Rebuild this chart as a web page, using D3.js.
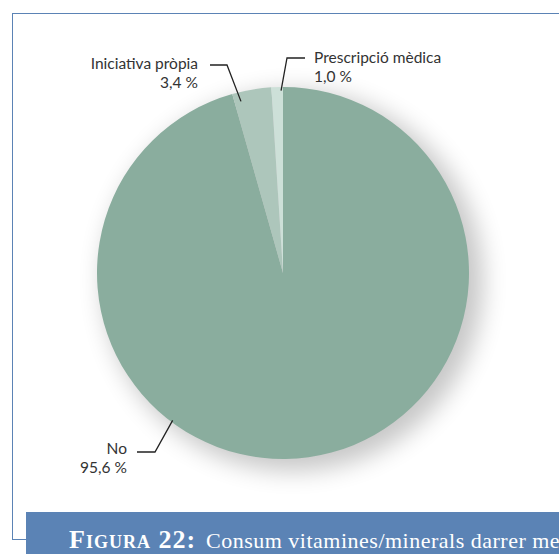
<!DOCTYPE html>
<html>
<head>
<meta charset="utf-8">
<script src="https://cdn.jsdelivr.net/npm/d3@7"></script>
<style>
  body { margin: 0; background: #fff; }
</style>
</head>
<body>
<div id="chart"></div>
<script>
// data
let categories = ["No", "Iniciativa pròpia", "Prescripció mèdica"];
let values = [95.6, 3.4, 1.0];
let valueLabels = ["95,6 %", "3,4 %", "1,0 %"];
let colors = ["#8aad9e", "#adc6bb", "#cde0d8"];

// label layout: text position, leader elbow, where on the slice the line ends
let labelPos = [
  {x: 127, y: 454, align: "end", lineY: 452, elbow: [137, 155], t: 0.63, rf: 0.99},
  {x: 198, y: 69, align: "end", lineY: 65, elbow: [210, 227], t: 0.17, rf: 0.95},
  {x: 314, y: 63, align: "start", lineY: 58, elbow: [305, 287], t: 0.83, rf: 0.98}
];

let width = 559, height = 554;
let cx = 283, cy = 273, radius = 186;
let textColor = "#333";
let blue = "#5b83b5";

let svg = d3.select("#chart")
  .append("svg")
  .attr("width", width)
  .attr("height", height);

let defs = svg.append("defs");
defs.append("filter")
  .attr("id", "shadow")
  .attr("x", "-30%").attr("y", "-30%")
  .attr("width", "160%").attr("height", "160%")
  .append("feGaussianBlur")
  .attr("stdDeviation", 12);

// frame
svg.append("rect")
  .attr("x", 12.5)
  .attr("y", 13.5)
  .attr("width", 600)
  .attr("height", 526)
  .style("fill", "none")
  .style("stroke", blue)
  .style("stroke-width", 1);

let pie = d3.pie().sort(null).value(d => d);
let arcs = pie(values);
let arc = d3.arc().innerRadius(0).outerRadius(radius);

let g = svg.append("g").attr("transform", `translate(${cx},${cy})`);

g.append("circle")
  .attr("cx", 10)
  .attr("cy", 8)
  .attr("r", radius + 4)
  .style("fill", "#000")
  .style("opacity", 0.22)
  .attr("filter", "url(#shadow)");

g.selectAll("path.slice")
  .data(arcs)
  .enter()
  .append("path")
  .attr("class", "slice")
  .attr("d", arc)
  .style("fill", (d, i) => colors[i]);

// leader lines + labels
arcs.forEach((d, i) => {
  let p = labelPos[i];
  let a = d.startAngle + p.t * (d.endAngle - d.startAngle);
  let r = radius * p.rf;
  let ex = cx + Math.sin(a) * r;
  let ey = cy - Math.cos(a) * r;
  svg.append("polyline")
    .attr("points", `${p.elbow[0]},${p.lineY} ${p.elbow[1]},${p.lineY} ${ex},${ey}`)
    .style("fill", "none")
    .style("stroke", "#222")
    .style("stroke-width", 1.3);
  let t = svg.append("text")
    .attr("x", p.x)
    .attr("y", p.y)
    .attr("text-anchor", p.align)
    .style("font-family", "Lato, 'Open Sans', sans-serif")
    .style("font-size", "15.5px")
    .style("fill", textColor);
  t.append("tspan").attr("x", p.x).attr("dy", 0).text(categories[i]);
  t.append("tspan").attr("x", p.x).attr("dy", 18.5).text(valueLabels[i]);
});

// caption bar
svg.append("rect")
  .attr("x", 26)
  .attr("y", 512)
  .attr("width", width)
  .attr("height", 50)
  .style("fill", blue);

let cap = svg.append("text")
  .attr("x", 69)
  .attr("y", 548)
  .style("font-family", "'Liberation Serif', 'DejaVu Serif', serif")
  .style("fill", "#fff");
cap.append("tspan")
  .style("font-size", "26px")
  .style("font-variant", "small-caps")
  .style("font-weight", "bold")
  .style("letter-spacing", "1px")
  .text("Figura 22:");
cap.append("tspan")
  .attr("x", 206)
  .style("font-size", "22px")
  .style("letter-spacing", "0.5px")
  .text("Consum vitamines/minerals darrer mes");
</script>
</body>
</html>
